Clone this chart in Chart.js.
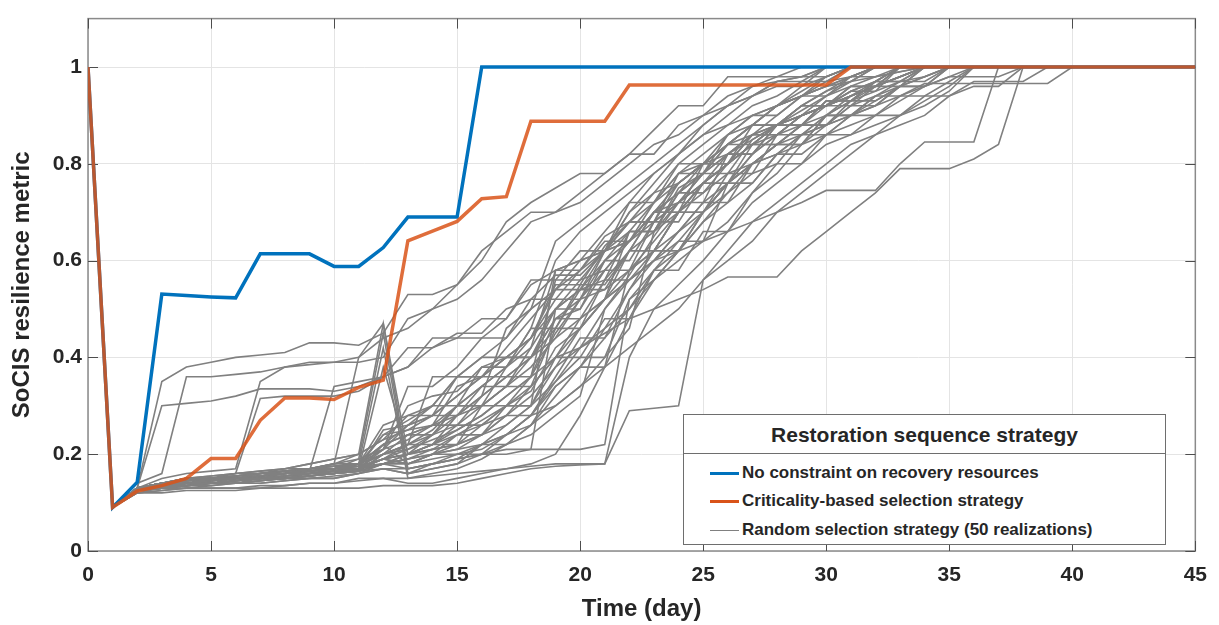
<!DOCTYPE html>
<html>
<head>
<meta charset="utf-8">
<script src="https://cdn.jsdelivr.net/npm/chart.js@4.4.1/dist/chart.umd.min.js"></script>
<style>
  html, body { margin: 0; padding: 0; background: #fff; }
  #wrap { position: relative; width: 1219px; height: 625px; }
  #legend { position: absolute; left: 683px; top: 414px; width: 481px; height: 129px; background: #fff;
            border: 1px solid #6e6e6e; font-family: "Liberation Sans", Arial, sans-serif; font-weight: bold; color: #262626; }
  #legend .ttl { height: 38px; line-height: 40px; border-bottom: 1px solid #6e6e6e; text-align: center; font-size: 21px; }
  #legend .row { position: absolute; left: 0; height: 28px; display: flex; align-items: center; font-size: 17px; white-space: nowrap; }
  #legend .swatch { width: 29px; margin-left: 26px; margin-right: 3px; }
</style>
</head>
<body>
<div id="wrap">
  <canvas id="chart" width="1219" height="625"></canvas>
  <div id="legend"><div class="ttl">Restoration sequence strategy</div></div>
</div>
<script>
// axis ticks
const xTickValues = [0, 5, 10, 15, 20, 25, 30, 35, 40, 45];
const yTickValues = [0, 0.2, 0.4, 0.6, 0.8, 1];
const lastDay = 45;

const seriesNames = [
    'No constraint on recovery resources',
    'Criticality-based selection strategy',
    'Random selection strategy (50 realizations)'
];

// values per day, starting at day 0 (every curve stays at 1 once it gets there)
const noConstraint = [1, .09, .142, .531, .528, .525, .523, .614, .614, .614, .588, .588, .627, .69, .69, .69, 1];
const criticality = [1, .09, .124, .135, .15, .191, .191, .27, .316, .316, .313, .338, .353, .641, .661, .681, .728, .732,
    .888, .888, .888, .888, .963, .963, .963, .963, .963, .963, .963, .963, .963, 1];

// random selection, 50 realizations
const randomRuns = [
    [1,.09,.13,.35,.38,.39,.40,.405,.41,.43,.43,.425,.45,.53,.53,.55,.60,.68,.72,.75,.78,.78,.82,.87,.92,.92,.98,.98,.98,.98,.98,1],
    [1,.09,.13,.30,.305,.31,.32,.335,.335,.335,.33,.34,.36,.42,.42,.44,.44,.48,.56,.56,.62,.62,.72,.72,.80,.80,.84,.88,.88,.92,.92,.96,.96,1],
    [1,.09,.14,.16,.36,.36,.365,.37,.38,.385,.39,.39,.40,.48,.50,.52,.56,.62,.68,.70,.72,.76,.80,.84,.86,.90,.94,.96,.97,.97,.97,1],
    [1,.09,.13,.15,.16,.165,.17,.35,.38,.39,.39,.40,.47,.20,.22,.22,.30,.34,.34,.46,.55,.55,.62,.70,.70,.80,.82,.82,.88,.88,.93,.93,.97,1],
    [1,.09,.13,.14,.15,.155,.16,.315,.32,.32,.32,.33,.36,.38,.42,.45,.45,.50,.52,.57,.57,.62,.66,.66,.75,.78,.78,.85,.88,.88,.93,.93,.97,.97,1],
    [1,.09,.12,.13,.14,.145,.15,.15,.16,.165,.34,.35,.36,.38,.44,.44,.48,.48,.55,.58,.58,.65,.68,.68,.76,.80,.84,.84,.88,.90,.92,.95,.95,1],
    [1,.09,.125,.14,.145,.15,.15,.155,.16,.17,.18,.40,.44,.46,.50,.55,.62,.66,.70,.70,.74,.78,.82,.82,.88,.90,.92,.94,.96,.96,1],
    [1,.09,.13,.14,.15,.15,.155,.16,.165,.17,.18,.20,.47,.17,.18,.19,.22,.26,.30,.35,.40,.40,.52,.58,.64,.64,.76,.80,.84,.84,.88,.90,.93,.96,.96,1],
    [1,.09,.13,.14,.145,.15,.15,.155,.16,.165,.17,.19,.45,.16,.17,.18,.20,.24,.28,.35,.42,.50,.57,.65,.72,.72,.82,.86,.86,.90,.92,.92,.96,.96,1],
    [1,.09,.125,.13,.14,.14,.145,.15,.155,.16,.165,.18,.42,.15,.16,.17,.19,.22,.26,.32,.38,.46,.54,.62,.70,.76,.80,.84,.86,.88,.90,.93,.96,.98,1],
    [1,.09,.125,.13,.135,.14,.14,.145,.15,.155,.16,.17,.38,.20,.21,.22,.24,.30,.36,.45,.52,.58,.64,.70,.74,.78,.82,.85,.88,.90,.92,.95,.97,1],
    [1,.09,.12,.125,.13,.13,.13,.135,.135,.14,.14,.15,.15,.14,.14,.15,.16,.17,.18,.20,.28,.38,.48,.56,.62,.70,.76,.80,.82,.84,.86,.88,.90,.93,.96,1],
    [1,.09,.12,.12,.125,.125,.125,.13,.13,.13,.13,.13,.135,.135,.135,.14,.15,.16,.17,.175,.178,.18,.29,.295,.30,.56,.60,.64,.70,.74,.78,.82,.86,.90,.93,.96,1],
    [1,.09,.12,.125,.13,.13,.13,.13,.135,.14,.14,.145,.15,.15,.155,.16,.165,.17,.175,.18,.18,.18,.40,.50,.55,.60,.66,.72,.76,.80,.84,.86,.88,.90,.92,.95,1],
    [1,.09,.13,.14,.14,.145,.15,.15,.155,.16,.165,.17,.18,.20,.22,.25,.28,.32,.36,.40,.42,.45,.48,.50,.52,.54,.566,.566,.566,.62,.66,.70,.74,.79,.79,.79,.81,.84,1],
    [1,.09,.13,.135,.14,.145,.15,.155,.16,.165,.17,.175,.19,.21,.24,.28,.32,.36,.40,.44,.48,.52,.56,.60,.62,.64,.66,.68,.70,.72,.745,.745,.745,.80,.845,.845,.845,1],
    [1,.09,.13,.14,.14,.15,.15,.16,.16,.17,.17,.18,.22,.24,.24,.30,.30,.38,.46,.46,.54,.54,.62,.62,.70,.70,.78,.78,.86,.86,.90,.90,.94,.94,.966,.966,.966,.966,.966,.966,1],
    [1,.09,.125,.135,.14,.14,.15,.15,.16,.16,.165,.17,.21,.26,.28,.28,.34,.34,.42,.50,.50,.60,.60,.68,.68,.76,.76,.84,.84,.88,.88,.92,.92,.96,.96,.98,.98,.98,1],
    [1,.09,.13,.13,.14,.14,.14,.15,.15,.155,.16,.165,.20,.22,.22,.26,.26,.30,.30,.40,.40,.48,.48,.58,.58,.66,.66,.74,.80,.80,.86,.86,.90,.90,.94,.94,.97,.97,.97,1],
    [1,.09,.13,.14,.145,.15,.15,.16,.16,.165,.17,.175,.24,.25,.26,.34,.36,.36,.40,.48,.48,.56,.56,.62,.70,.70,.76,.76,.82,.82,.86,.90,.90,.94,.94,.97,1],
    [1,.09,.125,.13,.14,.145,.15,.155,.16,.16,.165,.17,.25,.26,.30,.30,.38,.38,.44,.52,.52,.60,.66,.66,.74,.74,.80,.84,.84,.88,.88,.93,.93,.96,1],
    [1,.09,.13,.14,.145,.15,.155,.16,.165,.17,.175,.18,.26,.28,.28,.36,.40,.40,.44,.55,.55,.63,.68,.72,.76,.80,.80,.86,.88,.90,.92,.94,.96,.98,1],
    [1,.09,.13,.135,.14,.14,.145,.15,.15,.155,.16,.165,.22,.18,.20,.24,.24,.28,.28,.36,.44,.44,.54,.60,.66,.72,.72,.80,.84,.84,.90,.90,.94,.97,.97,1],
    [1,.09,.125,.13,.135,.14,.145,.15,.15,.155,.16,.165,.20,.24,.26,.26,.32,.36,.36,.56,.56,.58,.64,.70,.70,.76,.80,.86,.86,.90,.94,.98,1],
    [1,.09,.13,.135,.14,.14,.145,.15,.155,.16,.16,.17,.19,.20,.22,.24,.26,.30,.33,.42,.46,.52,.62,.70,.72,.78,.82,.86,.88,.90,.92,.94,.96,.98,1],
    [1,.09,.13,.14,.15,.155,.16,.165,.17,.18,.19,.20,.23,.28,.30,.36,.36,.40,.40,.46,.46,.52,.66,.66,.74,.80,.80,.88,.88,.92,.95,.98,1],
    [1,.09,.125,.13,.135,.135,.14,.14,.145,.15,.15,.16,.17,.16,.17,.18,.22,.22,.26,.34,.38,.38,.58,.62,.62,.68,.74,.78,.80,.86,.86,.90,.92,.96,.98,1],
    [1,.09,.13,.14,.14,.15,.15,.155,.16,.165,.17,.18,.20,.22,.36,.36,.36,.40,.40,.48,.50,.58,.58,.68,.72,.76,.82,.82,.88,.92,.92,.96,.96,1],
    [1,.09,.13,.14,.145,.15,.15,.155,.16,.17,.17,.18,.21,.34,.34,.38,.44,.44,.52,.52,.58,.64,.64,.72,.78,.78,.86,.90,.90,.94,.98,1],
    [1,.09,.125,.13,.14,.14,.145,.15,.15,.16,.16,.17,.19,.18,.20,.21,.24,.26,.30,.38,.42,.46,.50,.56,.60,.64,.68,.74,.78,.84,.90,.94,.96,.98,1],
    [1,.09,.13,.14,.15,.15,.155,.16,.165,.17,.175,.18,.20,.22,.24,.30,.34,.38,.42,.58,.60,.62,.70,.74,.76,.80,.84,.88,.92,.96,.98,1],
    [1,.09,.13,.135,.14,.145,.15,.15,.155,.16,.165,.17,.19,.20,.21,.22,.24,.28,.34,.40,.48,.52,.56,.60,.64,.70,.76,.80,.84,.88,.92,.94,.97,1],
    [1,.09,.125,.13,.135,.14,.14,.145,.15,.15,.155,.16,.18,.17,.18,.19,.20,.22,.24,.28,.32,.50,.56,.60,.66,.72,.76,.82,.86,.90,.92,.95,.97,.97,1],
    [1,.09,.13,.14,.145,.15,.155,.16,.165,.17,.18,.18,.22,.24,.26,.28,.32,.46,.50,.54,.58,.62,.64,.70,.76,.80,.86,.90,.92,.95,.98,1],
    [1,.09,.13,.135,.14,.145,.15,.155,.16,.165,.17,.175,.18,.19,.20,.20,.20,.20,.21,.50,.54,.56,.66,.72,.78,.82,.86,.88,.92,.94,.96,.98,1],
    [1,.09,.125,.13,.13,.135,.14,.14,.145,.15,.15,.16,.17,.16,.18,.20,.22,.24,.28,.30,.34,.40,.46,.66,.70,.74,.78,.80,.84,.86,.88,.90,.92,.94,.96,.98,1],
    [1,.09,.13,.14,.15,.15,.16,.16,.17,.17,.18,.19,.21,.30,.32,.33,.38,.40,.44,.54,.54,.62,.68,.68,.78,.80,.84,.86,.90,.94,.94,.97,1],
    [1,.09,.125,.13,.14,.145,.15,.15,.155,.16,.165,.17,.18,.18,.20,.22,.26,.28,.32,.38,.46,.56,.62,.66,.72,.78,.84,.88,.92,.94,.96,.98,.98,1],
    [1,.09,.13,.14,.145,.15,.155,.16,.165,.17,.175,.18,.21,.23,.26,.30,.34,.38,.46,.60,.66,.70,.74,.78,.82,.86,.90,.94,.97,.98,1],
    [1,.09,.13,.135,.14,.14,.145,.15,.155,.16,.17,.18,.24,.27,.30,.36,.40,.44,.50,.64,.68,.72,.76,.80,.84,.88,.92,.94,.97,.98,1],
    [1,.09,.125,.13,.135,.14,.145,.15,.15,.155,.16,.165,.18,.19,.20,.21,.22,.24,.26,.30,.34,.38,.42,.46,.50,.56,.62,.68,.72,.76,.80,.84,.86,.88,.90,.94,.96,.96,1],
    [1,.09,.13,.14,.14,.145,.15,.155,.16,.16,.165,.17,.19,.20,.22,.28,.30,.34,.40,.50,.54,.60,.64,.70,.74,.78,.84,.88,.92,.94,.97,.98,1],
    [1,.09,.13,.135,.14,.15,.15,.155,.16,.165,.17,.17,.19,.18,.19,.20,.21,.24,.28,.34,.38,.44,.50,.58,.62,.68,.72,.76,.82,.86,.90,.93,.95,.97,.98,1],
    [1,.09,.125,.13,.135,.14,.14,.145,.15,.155,.16,.165,.18,.20,.24,.26,.30,.34,.38,.44,.52,.62,.70,.76,.82,.86,.88,.92,.94,.97,1],
    [1,.09,.13,.14,.145,.15,.16,.165,.17,.18,.19,.20,.23,.25,.28,.32,.36,.42,.48,.54,.60,.66,.72,.78,.82,.88,.92,.96,.98,1],
    [1,.09,.13,.14,.145,.15,.15,.155,.16,.165,.17,.175,.20,.21,.23,.25,.28,.32,.36,.48,.52,.54,.58,.62,.66,.70,.74,.80,.82,.86,.88,.92,.94,.96,.98,1],
    [1,.09,.125,.13,.135,.14,.14,.145,.15,.155,.16,.165,.17,.17,.18,.19,.20,.21,.21,.21,.21,.22,.52,.56,.62,.70,.76,.82,.86,.90,.92,.94,.96,.98,1],
    [1,.09,.13,.14,.15,.15,.155,.16,.165,.17,.175,.18,.22,.26,.28,.32,.36,.40,.44,.50,.56,.62,.68,.74,.80,.84,.88,.90,.92,.94,.96,.97,.98,.99,1],
    [1,.09,.13,.14,.14,.145,.15,.155,.16,.165,.17,.175,.19,.22,.25,.30,.30,.30,.30,.58,.60,.62,.64,.68,.72,.76,.80,.84,.88,.92,.95,.97,1],
    [1,.09,.125,.13,.135,.14,.145,.15,.15,.16,.16,.17,.18,.19,.21,.24,.27,.30,.34,.40,.46,.52,.58,.64,.70,.76,.80,.84,.88,.91,.94,.96,.98,.99,1]
];

const blue = '#0072BD';
const orange = 'rgba(217, 83, 25, 0.85)';
const gray = '#808080';
const textColor = '#262626';
const fontFamily = '"Liberation Sans", Arial, sans-serif';

// day index -> point, plus the final value at the last day of the axis
function toPoints(values) {
    const pts = values.map((v, i) => ({ x: i, y: v }));
    pts.push({ x: lastDay, y: values[values.length - 1] });
    return pts;
}

// box around the plot with MATLAB-style inward ticks
const axesFrame = {
    id: 'axesFrame',
    beforeDatasetsDraw(chart) {
        const { ctx, chartArea: a, scales: { x, y } } = chart;
        ctx.save();
        ctx.strokeStyle = '#8a8a8a';
        ctx.lineWidth = 1.5;
        ctx.strokeRect(a.left, a.top, a.right - a.left, a.bottom - a.top);
        ctx.strokeStyle = '#4d4d4d';
        ctx.lineWidth = 1;
        ctx.beginPath();
        xTickValues.forEach(v => {
            const px = Math.round(x.getPixelForValue(v)) + 0.5;
            ctx.moveTo(px, a.bottom); ctx.lineTo(px, a.bottom - 10);
            ctx.moveTo(px, a.top); ctx.lineTo(px, a.top + 10);
        });
        yTickValues.forEach(v => {
            const py = Math.round(y.getPixelForValue(v)) + 0.5;
            ctx.moveTo(a.left, py); ctx.lineTo(a.left + 10, py);
            ctx.moveTo(a.right, py); ctx.lineTo(a.right - 10, py);
        });
        ctx.stroke();
        ctx.restore();
    }
};

const datasets = [
    { label: seriesNames[1], data: toPoints(criticality), borderColor: orange, borderWidth: 3.5 },
    { label: seriesNames[0], data: toPoints(noConstraint), borderColor: blue, borderWidth: 3.5 }
];
randomRuns.forEach((run, i) => {
    datasets.push({ label: i === 0 ? seriesNames[2] : '', data: toPoints(run), borderColor: gray, borderWidth: 1.6 });
});
datasets.forEach(d => { d.pointRadius = 0; d.tension = 0; d.fill = false; });

new Chart(document.getElementById('chart').getContext('2d'), {
    type: 'line',
    data: { datasets: datasets },
    options: {
        responsive: false,
        animation: false,
        devicePixelRatio: 1,
        layout: { padding: { top: 9, right: 22, left: 0, bottom: 0 } },
        plugins: { legend: { display: false }, tooltip: { enabled: false } },
        scales: {
            x: {
                type: 'linear', min: 0, max: 45,
                afterBuildTicks: s => { s.ticks = xTickValues.map(v => ({ value: v })); },
                afterFit: s => { s.height = 74; },
                grid: { color: '#e4e4e4', drawTicks: false },
                border: { display: false },
                ticks: { color: textColor, padding: 12, maxRotation: 0, font: { family: fontFamily, size: 21, weight: 'bold' } },
                title: { display: true, text: 'Time (day)', color: textColor, padding: { top: 0, bottom: 1 },
                         font: { family: fontFamily, size: 24, weight: 'bold' } }
            },
            y: {
                type: 'linear', min: 0, max: 1.1,
                afterBuildTicks: s => { s.ticks = yTickValues.map(v => ({ value: v })); },
                afterFit: s => { s.width = 88; },
                grid: { color: '#e4e4e4', drawTicks: false },
                border: { display: false },
                ticks: { color: textColor, padding: 6, callback: v => String(+v.toFixed(1)),
                         font: { family: fontFamily, size: 21, weight: 'bold' } },
                title: { display: true, text: 'SoCIS resilience metric', color: textColor, padding: { top: 8, bottom: 0 },
                         font: { family: fontFamily, size: 24, weight: 'bold' } }
            }
        }
    },
    plugins: [axesFrame]
});

// legend box inside the axes, lower right
const legendEl = document.getElementById('legend');
const legendRows = [
    { name: seriesNames[0], color: blue, width: 3.5, top: 44 },
    { name: seriesNames[1], color: '#D95319', width: 3.5, top: 72 },
    { name: seriesNames[2], color: gray, width: 1.5, top: 101 }
];
legendRows.forEach(r => {
    const row = document.createElement('div');
    row.className = 'row';
    row.style.top = r.top + 'px';
    const sw = document.createElement('span');
    sw.className = 'swatch';
    sw.style.borderTop = r.width + 'px solid ' + r.color;
    const label = document.createElement('span');
    label.textContent = r.name;
    row.appendChild(sw);
    row.appendChild(label);
    legendEl.appendChild(row);
});
</script>
</body>
</html>
